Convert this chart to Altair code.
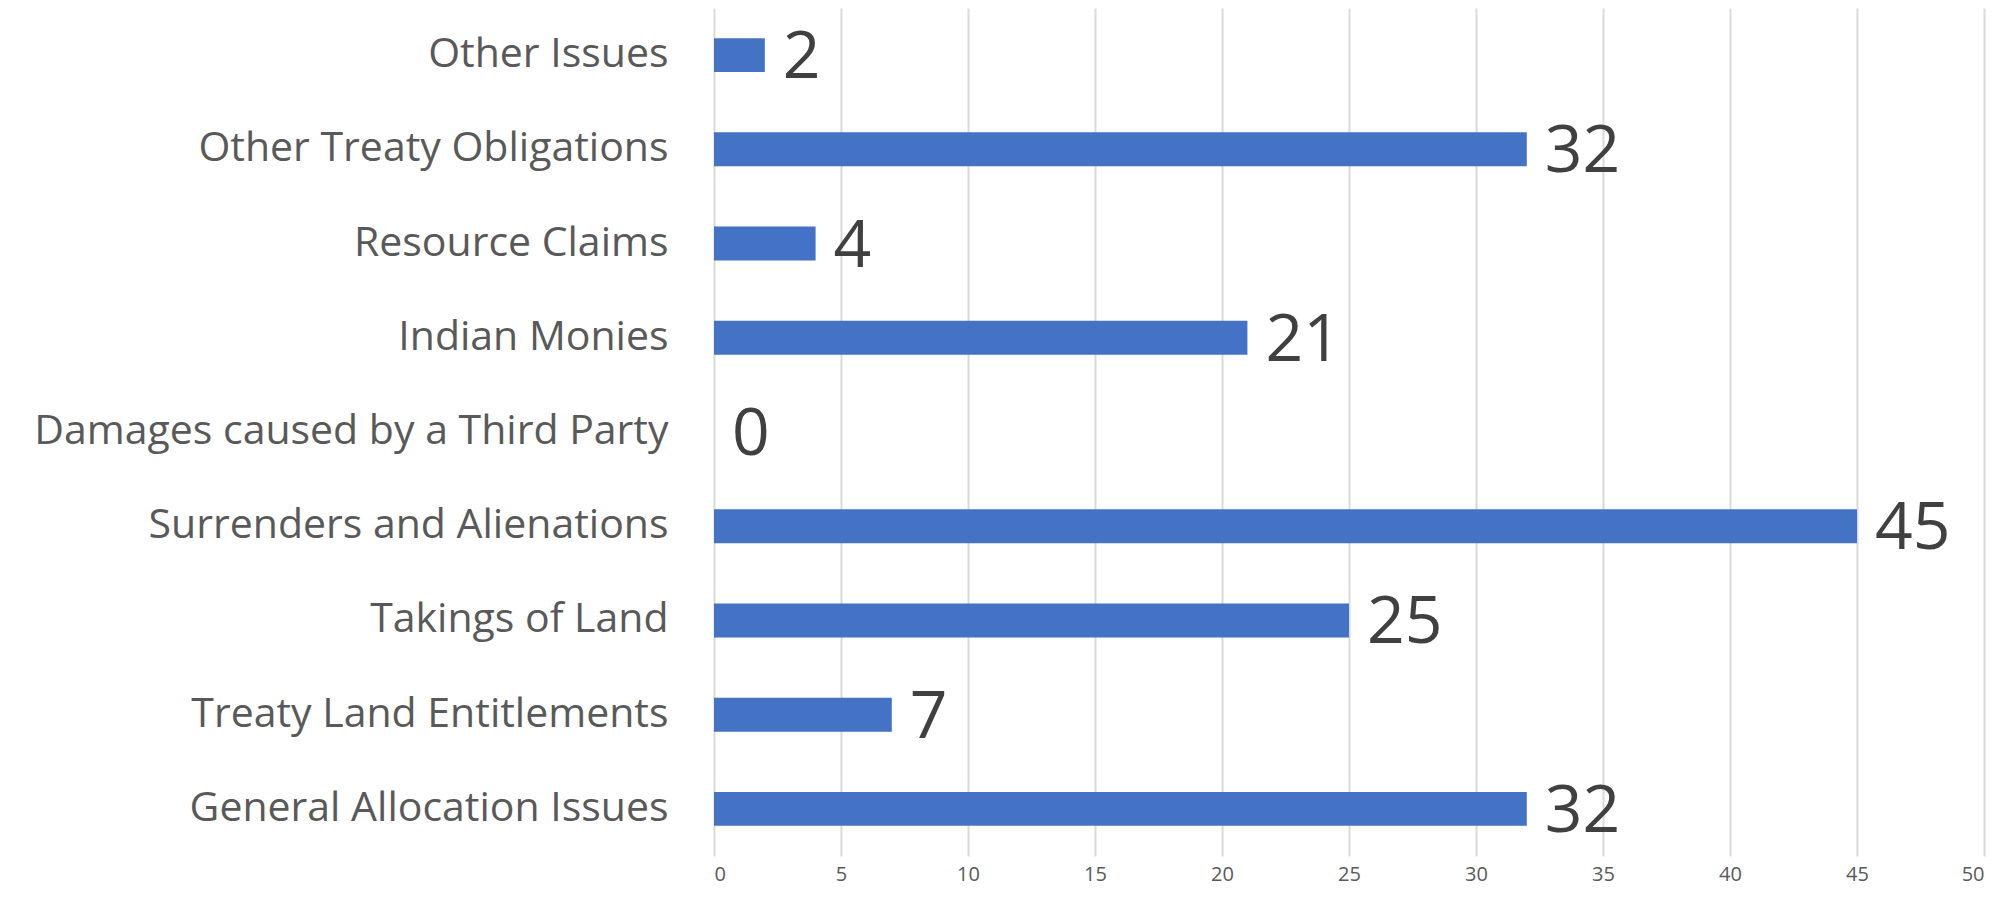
import altair as alt
import pandas as pd

NBSP = "\u00a0"
categories = [
    "Other Issues",
    "Other Treaty Obligations" + NBSP,
    "Resource Claims",
    "Indian Monies",
    "Damages caused by a Third Party" + NBSP,
    "Surrenders and Alienations" + NBSP,
    "Takings of Land",
    "Treaty Land Entitlements",
    "General Allocation Issues",
]
values = [2, 32, 4, 21, 0, 45, 25, 7, 32]

df = pd.DataFrame({"category": categories, "value": values})

FONT = "Open Sans"

y_axis = alt.Axis(
    ticks=False,
    domain=False,
    grid=False,
    labelFont=FONT,
    labelFontSize=41,
    labelColor="#595959",
    labelPadding=46,
    labelLimit=900,
)

x_axis = alt.Axis(
    values=list(range(0, 51, 5)),
    grid=True,
    gridColor="#D9D9D9",
    gridWidth=2,
    ticks=False,
    domain=False,
    labelFont=FONT,
    labelFontSize=20,
    labelColor="#595959",
    labelPadding=8,
)

y_enc = alt.Y(
    "category:N",
    sort=categories,
    title=None,
    scale=alt.Scale(paddingInner=0.64, paddingOuter=0.32),
    axis=y_axis,
)
x_enc = alt.X(
    "value:Q",
    title=None,
    scale=alt.Scale(domain=[0, 50], nice=False),
    axis=x_axis,
)

bars = alt.Chart(df).mark_bar(color="#4472C4").encode(x=x_enc, y=y_enc)

labels = alt.Chart(df).mark_text(
    align="left",
    baseline="middle",
    dx=18,
    dy=3,
    font=FONT,
    fontSize=66,
    color="#404040",
).encode(
    x=x_enc,
    y=y_enc,
    text=alt.Text("value:Q"),
)

chart = (
    alt.layer(bars, labels)
    .properties(
        width=1270,
        height=848,
        autosize=alt.AutoSizeParams(type="none"),
        padding={"left": 706, "top": 0, "right": 18, "bottom": 35},
        view=alt.ViewBackground(stroke="transparent", strokeWidth=0, fill="white"),
    )
    .configure_view(stroke="transparent", strokeWidth=0)
    .configure_axis(domain=False, domainOpacity=0)
    .configure(background="white")
)

chart.save("out.html", embed_options={"renderer": "svg", "actions": False})
